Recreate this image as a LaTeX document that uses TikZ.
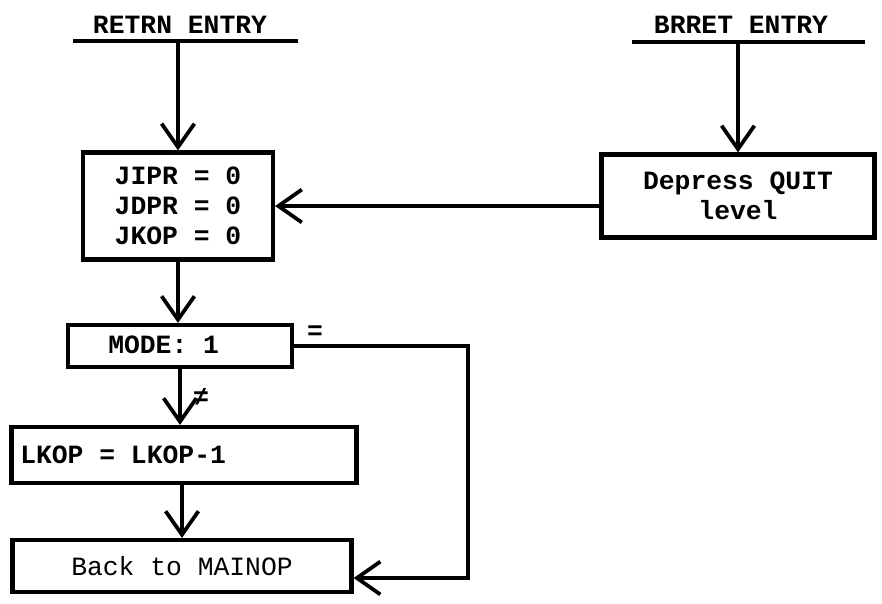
\documentclass[tikz,border=0pt]{standalone}
\usepackage{fontspec}
\setmonofont{Liberation Mono}
\usetikzlibrary{arrows.meta}
\tikzset{
  flowbox/.style={draw, line width=3.6pt, inner ysep=2pt, align=center},
  entrytext/.style={inner sep=1pt},
}
\begin{document}
\begin{tikzpicture}[x=0.03cm, y=-0.03cm, line width=3.6pt,
  >={Straight Barb[length=20pt, width=28pt, line width=3.2pt]},
  font=\ttfamily\bfseries\fontsize{22.5}{25.5}\selectfont]
\useasboundingbox (0,0) rectangle (882,603);
% entry points
\node[entrytext] (retrn) at (180,25) {RETRN ENTRY};
\node[entrytext] (brret) at (741,25) {BRRET ENTRY};
\coordinate (retrnL) at (73,41);
\coordinate (retrnR) at (298,41);
\coordinate (brretL) at (632,42);
\coordinate (brretR) at (865,42);
\draw (retrnL) -- (retrnR);
\draw (brretL) -- (brretR);
% boxes
\node[flowbox, minimum width=5.7cm, minimum height=3.21cm] (jipr) at (178,206) {JIPR = 0\\JDPR = 0\\JKOP = 0};
\node[flowbox, minimum width=8.19cm, minimum height=2.49cm] (depress) at (738,196) {Depress QUIT\\level};
\node[flowbox, minimum width=6.72cm, minimum height=1.26cm] (mode) at (180,346) {};
\node[entrytext, anchor=west] (modetext) at (105,345) {MODE: 1};
\node[flowbox, minimum width=10.35cm, minimum height=1.68cm] (lkop) at (184,455) {};
\node[entrytext, anchor=west] (lkoptext) at (17,455) {LKOP = LKOP-1};
\node[flowbox, minimum width=10.17cm, minimum height=1.56cm, font=\ttfamily\fontsize{22.5}{25.5}\selectfont] (back) at (182,566) {Back to MAINOP};
% connectors
\draw[->] (jipr.north |- retrnL) -- (jipr.north);
\draw[->] (depress.north |- brretL) -- (depress.north);
\draw[->] (jipr.east -| depress.west) -- (jipr.east);
\draw[->] (jipr.south) -- (jipr.south |- mode.north);
\draw[->] (mode.south) -- node[right, xshift=6pt] {≠} (mode.south |- lkop.north);
\coordinate (rtn) at (468,578);
\draw[->] (mode.east) -- node[above, pos=0.12] {=} (mode.east -| rtn) -- (rtn) -- (rtn -| back.east);
\draw[->] (back.north |- lkop.south) -- (back.north);
\end{tikzpicture}
\end{document}
